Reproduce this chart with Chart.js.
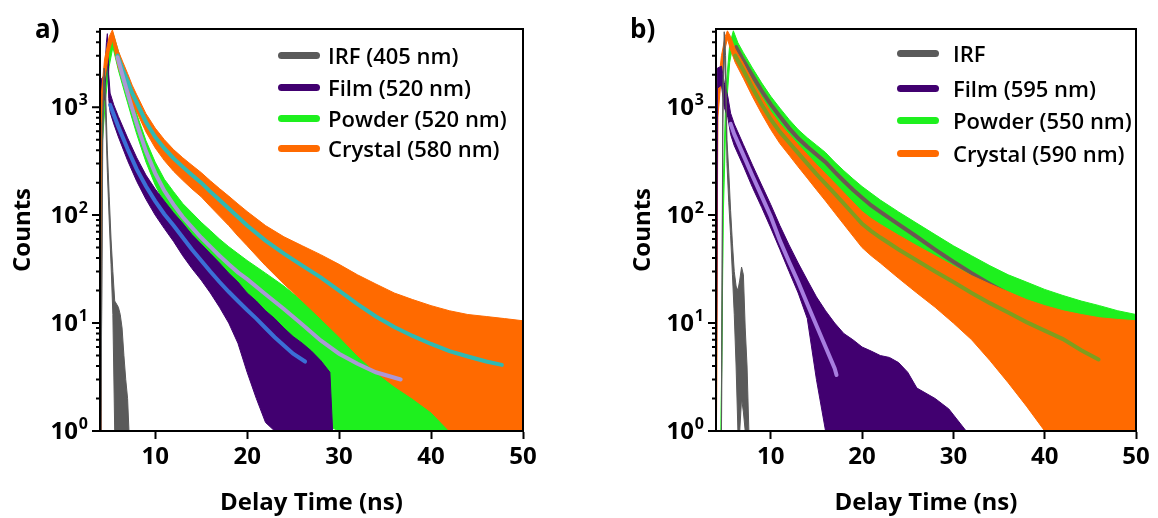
<!DOCTYPE html>
<html>
<head>
<meta charset="utf-8">
<script src="https://cdn.jsdelivr.net/npm/chart.js@4.4.1/dist/chart.umd.min.js"></script>
<style>
  body { margin: 0; background: #fff; width: 1158px; height: 518px; position: relative; overflow: hidden; font-family: 'Open Sans', sans-serif; }
  canvas { position: absolute; top: 0; }
  .tag { position: absolute; font-weight: 700; font-size: 26px; line-height: 30px; }
  .row { position: absolute; height: 30px; display: flex; align-items: center; font-size: 22px; font-weight: 600; white-space: nowrap; }
  .row span { display: inline-block; width: 42px; height: 7px; border-radius: 4px; }
</style>
</head>
<body>
<canvas id="chartA" width="545" height="518" style="left:0"></canvas>
<canvas id="chartB" width="558" height="518" style="left:600px"></canvas>
<div class="tag" style="left:35px; top:13px">a)</div>
<div class="tag" style="left:630px; top:13px">b)</div>
<div id="legendA"></div>
<div id="legendB"></div>
<script>
// ---- axes ----
const xTicks = [10, 20, 30, 40, 50];
const yMajor = [1, 10, 100, 1000];
const yMinor = [2, 3, 4, 5, 6, 7, 8, 9, 20, 30, 40, 50, 60, 70, 80, 90, 200, 300, 400, 500, 600, 700, 800, 900, 2000, 3000, 4000, 5000];

// ---- panel a: noisy traces as upper / lower envelopes ----
const aIrfT  = [4.1, 4.3, 4.45, 4.6, 4.8, 5.0, 5.2, 5.4, 5.6, 5.8, 6.0, 6.2, 6.4, 6.6, 6.8, 7.0, 7.15];
const aIrfHi = [1, 900, 2300, 1500, 400, 150, 60, 30, 16, 15, 14, 12, 9, 5, 3, 2, 1];
const aIrfLo = [1, 500, 1800, 900, 250, 90, 35, 12, 1, 1, 1, 1, 1, 1, 1, 1, 1];

const aFilmT  = [4.03, 4.1, 4.5, 4.7, 4.8, 4.95, 5.1, 5.5, 6, 7, 8, 9, 10, 11, 12, 13, 14, 15, 16, 17, 18, 19, 20, 21, 22, 23, 24, 25, 26, 27, 28, 29, 29.3];
const aFilmHi = [1, 1800, 2000, 4000, 4800, 2000, 1350, 1050, 820, 520, 340, 235, 175, 135, 105, 84, 66, 54, 44, 36, 29, 24, 19, 16, 13, 11, 9, 7.5, 6.5, 5.5, 4.5, 3.5, 1];
const aFilmLo = [1, 1000, 1200, 2500, 3500, 1200, 900, 700, 530, 320, 205, 140, 100, 75, 57, 42, 32, 25, 19, 14, 10, 6.5, 3.5, 2, 1.2, 1, 1, 1, 1, 1, 1, 1, 1];

const aPowderT  = [4.05, 4.2, 4.6, 5.0, 5.4, 6, 6.5, 7, 7.5, 8, 9, 10, 11, 12, 13, 14, 15, 16, 17, 18, 19, 20, 22, 24, 26, 28, 30, 32, 34, 36, 38, 40, 42, 44, 46, 48, 50];
const aPowderHi = [1, 700, 1900, 3600, 4900, 3300, 2350, 1650, 1200, 860, 490, 310, 215, 165, 128, 105, 86, 72, 60, 51, 44, 38, 29, 22, 16, 12.5, 9.5, 7.5, 6, 5, 4, 3.3, 3, 2.8, 2.6, 2.4, 2.3];
const aPowderLo = [1, 400, 1200, 2400, 3600, 2200, 1550, 1100, 780, 560, 310, 190, 130, 95, 72, 57, 45, 36, 29, 23, 18.5, 15, 9, 5, 2.8, 1.2, 1, 1, 1, 1, 1, 1, 1, 1, 1, 1, 1];

const aCrystalT  = [4.02, 4.1, 4.5, 5.0, 5.35, 6, 6.5, 7, 7.5, 8, 9, 10, 11, 12, 13, 14, 15, 16, 17, 18, 19, 20, 22, 24, 26, 28, 30, 32, 34, 36, 38, 40, 42, 44, 46, 48, 50];
const aCrystalHi = [1, 1200, 2800, 4500, 5200, 3300, 2600, 2050, 1600, 1300, 870, 640, 500, 405, 340, 290, 248, 208, 176, 150, 127, 108, 80, 63, 52, 43, 35, 28, 23, 19, 16.5, 14.5, 13, 12, 11.5, 11, 10.5];
const aCrystalLo = [1, 700, 1800, 3300, 4200, 2300, 1800, 1450, 1100, 900, 590, 420, 320, 255, 210, 175, 148, 120, 98, 80, 64, 52, 34, 23, 16, 11, 7.5, 5, 3.5, 2.6, 2, 1.5, 1, 1, 1, 1, 1];

// ---- panel a: fit curves ----
const aFilmFitT = [5.1, 5.5, 6, 7, 8, 9, 10, 11, 12, 13, 14, 15, 16, 17, 18, 19, 20, 21, 22, 23, 24, 25, 26.3];
const aFilmFitY = [1050, 850, 660, 410, 265, 185, 135, 102, 80, 62, 48, 38, 30, 24, 19.5, 16, 13.2, 11, 9, 7.4, 6.2, 5.2, 4.4];
const aPowderFitT = [5.9, 6.5, 7, 7.5, 8, 9, 10, 11, 12, 13, 14, 15, 16, 17, 18, 19, 20, 22, 24, 26, 28, 30, 32, 34, 36.7];
const aPowderFitY = [2900, 1900, 1350, 970, 700, 390, 245, 168, 125, 96, 77, 62, 51, 42, 35, 29.5, 25.5, 18.5, 13.5, 9.7, 6.9, 5.2, 4.2, 3.5, 3.0];
const aCrystalFitT = [5.9, 6.5, 7, 7.5, 8, 9, 10, 11, 12, 13, 14, 15, 16, 17, 18, 19, 20, 22, 24, 26, 28, 30, 32, 34, 36, 38, 40, 42, 44, 46, 47.7];
const aCrystalFitY = [3000, 2200, 1750, 1350, 1100, 730, 530, 415, 335, 280, 235, 200, 165, 138, 115, 96, 80, 58, 44, 34, 26.5, 20, 15, 11.5, 9.2, 7.6, 6.4, 5.5, 4.9, 4.4, 4.1];

// ---- panel b: noisy traces ----
const bIrfT  = [4.6, 4.75, 4.9, 5.05, 5.2, 5.4, 5.6, 5.8, 6.0, 6.2, 6.4, 6.6, 6.8, 7.0, 7.2, 7.4, 7.6];
const bIrfHi = [1, 1500, 5000, 3000, 500, 250, 110, 55, 30, 22, 20, 25, 33, 28, 9, 4, 1];
const bIrfLo = [1, 700, 3500, 1800, 300, 130, 65, 28, 12, 4, 1, 1, 2, 1.5, 1, 1, 1];

const bFilmT  = [4.03, 4.15, 4.6, 4.9, 5.3, 5.6, 6, 7, 8, 9, 10, 11, 12, 13, 14, 15, 16, 17, 18, 19, 20, 21, 22, 23, 24, 25, 26, 28, 29.5, 31.4];
const bFilmHi = [1, 2300, 2400, 1700, 1250, 880, 700, 450, 290, 190, 125, 80, 53, 36, 25, 17.5, 13, 10, 8, 7, 6, 5.5, 5, 4.8, 4.3, 3.5, 2.5, 2, 1.6, 1];
const bFilmLo = [1, 1500, 1600, 1000, 800, 560, 440, 285, 180, 118, 76, 48, 30, 19, 11, 3, 1, 1, 1, 1, 1, 1, 1, 1, 1, 1, 1, 1, 1, 1];

const bPowderT  = [4.55, 4.8, 5.1, 5.5, 5.9, 6.4, 7, 8, 9, 10, 11, 12, 13, 14, 15, 16, 17, 18, 19, 20, 22, 24, 26, 28, 30, 32, 34, 36, 38, 40, 42, 44, 46, 48, 50];
const bPowderHi = [1, 200, 1500, 3800, 5100, 3950, 3200, 2300, 1680, 1260, 980, 770, 620, 520, 445, 380, 310, 258, 217, 184, 138, 107, 84, 66, 52, 42, 34, 28, 24, 20.5, 18, 16, 14.5, 13, 12];
const bPowderLo = [1, 100, 900, 2600, 4000, 2700, 2200, 1580, 1140, 840, 640, 500, 400, 330, 278, 232, 186, 152, 125, 104, 75, 56, 42, 31, 23, 17.5, 13.5, 10.5, 8.5, 7, 5.8, 4.8, 4, 3.4, 3];

const bCrystalT  = [4.05, 4.2, 4.6, 5.0, 5.25, 5.6, 6.1, 7, 8, 9, 10, 11, 12, 13, 14, 15, 16, 17, 18, 19, 20, 21, 22, 24, 26, 28, 30, 32, 34, 36, 38, 40, 42, 44, 46, 48, 50];
const bCrystalHi = [1, 1500, 3000, 4500, 5100, 4500, 3450, 2550, 1750, 1250, 910, 700, 560, 450, 365, 295, 242, 198, 162, 132, 108, 93, 82, 65, 52, 42, 34, 27.5, 23, 19.5, 16.5, 14.5, 13, 12, 11.2, 10.8, 10.5];
const bCrystalLo = [1, 800, 2000, 3500, 4300, 3400, 2600, 1850, 1250, 870, 620, 460, 360, 280, 220, 172, 135, 105, 82, 64, 50, 42, 36, 26, 19, 14, 10, 7, 4.5, 2.8, 1.7, 1, 1, 1, 1, 1, 1];

// ---- panel b: fit curves ----
const bFilmFitT = [5.6, 6, 7, 8, 9, 10, 11, 12, 13, 14, 15, 16, 17, 17.2];
const bFilmFitY = [700, 560, 360, 230, 150, 97, 58, 37, 24, 15, 9.5, 6, 3.8, 3.3];
const bPowderFitT = [6.2, 7, 8, 9, 10, 11, 12, 13, 14, 15, 16, 17, 18, 19, 20, 21, 22, 24, 26, 28, 30, 32, 34, 36, 38, 40, 42, 44, 45.6];
const bPowderFitY = [3600, 2700, 1950, 1420, 1060, 820, 640, 515, 430, 365, 309, 251, 207, 172, 145, 123, 107, 82, 63, 48, 37, 29, 23, 18.6, 15.5, 12.9, 11, 9.3, 8.3];
const bCrystalFitT = [6.1, 7, 8, 9, 10, 11, 12, 13, 14, 15, 16, 17, 18, 19, 20, 21, 22, 24, 26, 28, 30, 32, 34, 36, 38, 40, 42, 44, 45.9];
const bCrystalFitY = [3000, 2200, 1500, 1060, 770, 590, 470, 375, 300, 240, 195, 158, 128, 103, 83, 71, 62, 48, 38, 30, 24, 19, 15.3, 12.5, 10.2, 8.5, 7.1, 5.6, 4.6];

const legendA = ['IRF (405 nm)', 'Film (520 nm)', 'Powder (520 nm)', 'Crystal (580 nm)'];
const legendB = ['IRF', 'Film (595 nm)', 'Powder (550 nm)', 'Crystal (590 nm)'];

const GREY = '#5a5a5a', PURPLE = '#410070', GREEN = '#1ef01e', ORANGE = '#ff6a00';
const legendColors = [GREY, PURPLE, GREEN, ORANGE];

const pts = (t, v) => t.map((x, i) => ({ x: x, y: v[i] }));

// upper line fills down to the lower line that follows it
function band(t, hi, lo, color, order) {
    return [
        { data: pts(t, hi), borderColor: color, backgroundColor: color, borderWidth: 1, fill: '+1', order: order, pointRadius: 0 },
        { data: pts(t, lo), borderColor: color, borderWidth: 1, fill: false, order: order, pointRadius: 0 }
    ];
}

function fitLine(t, v, color, order) {
    return { data: pts(t, v), borderColor: color, borderWidth: 4, fill: false, order: order, pointRadius: 0, borderCapStyle: 'round' };
}

// frame, log ticks and 10^n labels
const framePlugin = {
    id: 'frame',
    afterDraw(chart) {
        const { ctx, chartArea: a } = chart;
        const y = chart.scales.y;
        ctx.save();
        ctx.strokeStyle = '#000';
        ctx.lineWidth = 2;
        ctx.strokeRect(a.left, a.top, a.right - a.left, a.bottom - a.top);
        ctx.beginPath();
        yMajor.forEach(v => { const py = y.getPixelForValue(v); ctx.moveTo(a.left, py); ctx.lineTo(a.left - 8, py); });
        yMinor.forEach(v => { const py = y.getPixelForValue(v); ctx.moveTo(a.left, py); ctx.lineTo(a.left - 4, py); });
        ctx.stroke();
        ctx.fillStyle = '#000';
        ctx.textAlign = 'right';
        ctx.textBaseline = 'middle';
        yMajor.forEach(v => {
            const py = y.getPixelForValue(v);
            const e = String(Math.round(Math.log10(v)));
            ctx.font = 'bold 16px "Open Sans"';
            const ew = ctx.measureText(e).width;
            ctx.fillText(e, a.left - 12, py - 7);
            ctx.font = 'bold 24px "Open Sans"';
            ctx.fillText('10', a.left - 13 - ew, py + 1);
        });
        ctx.restore();
    }
};

function makeChart(id, datasets, yWidth, yTitlePad) {
    return new Chart(document.getElementById(id), {
        type: 'line',
        data: { datasets: datasets },
        options: {
            responsive: false,
            animation: false,
            layout: { padding: { top: 29, right: 22, bottom: 0, left: 0 } },
            plugins: { legend: { display: false }, tooltip: { enabled: false } },
            scales: {
                x: {
                    type: 'linear', min: 4, max: 50,
                    afterBuildTicks: s => { s.ticks = xTicks.map(v => ({ value: v })); },
                    afterFit: s => { s.height = 87; },
                    grid: { drawOnChartArea: false, tickLength: 8, tickWidth: 2, tickColor: '#000' },
                    border: { color: '#000', width: 2 },
                    ticks: { color: '#000', font: { family: 'Open Sans', size: 24, weight: 'bold' }, padding: 4, maxRotation: 0 },
                    title: { display: true, text: 'Delay Time (ns)', color: '#000', font: { family: 'Open Sans', size: 24, weight: 'bold' }, padding: 0 }
                },
                y: {
                    type: 'logarithmic', min: 1, max: 5300,
                    afterFit: s => { s.width = yWidth; },
                    grid: { display: false },
                    border: { color: '#000', width: 2 },
                    ticks: { display: false },
                    title: { display: true, text: 'Counts', color: '#000', font: { family: 'Open Sans', size: 24, weight: 'bold' }, padding: { top: yTitlePad, bottom: 0 } }
                }
            }
        },
        plugins: [framePlugin]
    });
}

makeChart('chartA', [
    ...band(aPowderT, aPowderHi, aPowderLo, GREEN, 6),
    ...band(aFilmT, aFilmHi, aFilmLo, PURPLE, 5),
    ...band(aCrystalT, aCrystalHi, aCrystalLo, ORANGE, 4),
    ...band(aIrfT, aIrfHi, aIrfLo, GREY, 3),
    fitLine(aFilmFitT, aFilmFitY, '#3b6fd6', 1),
    fitLine(aPowderFitT, aPowderFitY, '#ab98d6', 1),
    fitLine(aCrystalFitT, aCrystalFitY, '#2fb9b2', 1)
], 100, 9);

makeChart('chartB', [
    ...band(bPowderT, bPowderHi, bPowderLo, GREEN, 7),
    fitLine(bPowderFitT, bPowderFitY, '#6b5852', 6),
    ...band(bCrystalT, bCrystalHi, bCrystalLo, ORANGE, 5),
    ...band(bFilmT, bFilmHi, bFilmLo, PURPLE, 4),
    ...band(bIrfT, bIrfHi, bIrfLo, GREY, 3),
    fitLine(bFilmFitT, bFilmFitY, '#a77ee0', 1),
    fitLine(bCrystalFitT, bCrystalFitY, '#7e9e1e', 1)
], 116, 29);

// legends
function drawLegend(boxId, labels, lineX, gap, rows) {
    const box = document.getElementById(boxId);
    labels.forEach((text, i) => {
        const row = document.createElement('div');
        row.className = 'row';
        row.style.left = lineX + 'px';
        row.style.top = (rows[i] - 15) + 'px';
        row.innerHTML = '<span style="background:' + legendColors[i] + ';margin-right:' + gap + 'px"></span>' + text;
        box.appendChild(row);
    });
}
drawLegend('legendA', legendA, 278, 8, [55, 87, 118, 148]);
drawLegend('legendB', legendB, 897, 14, [53, 88, 120, 153]);
</script>
</body>
</html>
